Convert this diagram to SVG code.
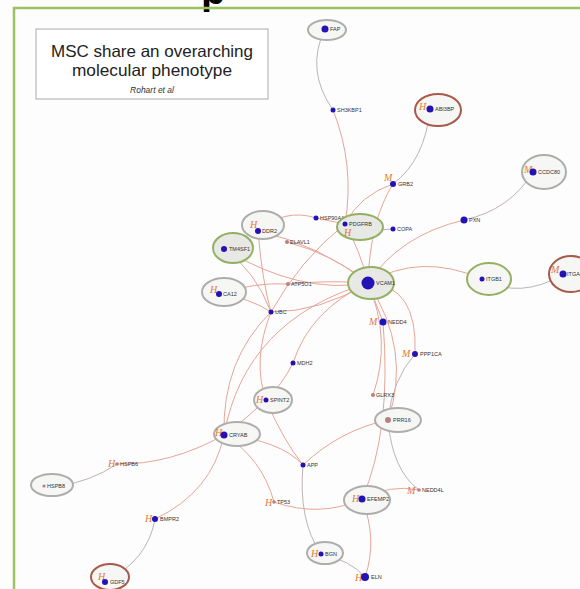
<svg xmlns="http://www.w3.org/2000/svg" width="580" height="589" viewBox="0 0 580 589">
<style>
.e{fill:none;stroke:#e6a595;stroke-width:1}
.g{fill:none;stroke:#bdb3b3;stroke-width:1}
.ring{stroke-width:2;fill:#f6f6f4}
.rg{stroke:#adadab}
.rn{stroke:#93b064}
.rb{stroke:#a85a48}
.fill2{fill:#e8e8e4}
.d{fill:#2412b4}
.ds{fill:#b88080}
.lb{font-family:"Liberation Sans",Arial,sans-serif;font-size:5.5px;fill:#333}
.mk{font-family:"Liberation Serif","Times New Roman",serif;font-style:italic;font-size:10px;fill:#e27a3a}
</style>
<rect width="580" height="589" fill="#fefdfe"/>
<text x="201" y="4" font-family="Liberation Sans,Arial,sans-serif" font-weight="bold" font-size="40" fill="#000">p</text>
<path d="M14,589 V8 H580" fill="none" stroke="#9cc45c" stroke-width="2.5"/>
<g id="title">
<rect x="36" y="29" width="232" height="70" fill="#fff" stroke="#aaa" stroke-width="1"/>
<text x="152" y="57" text-anchor="middle" font-family="Liberation Sans,Arial,sans-serif" font-size="16.5" fill="#222" textLength="202" lengthAdjust="spacingAndGlyphs">MSC share an overarching</text>
<text x="152" y="76" text-anchor="middle" font-family="Liberation Sans,Arial,sans-serif" font-size="16.5" fill="#222" textLength="160" lengthAdjust="spacingAndGlyphs">molecular phenotype</text>
<text x="152" y="93" text-anchor="middle" font-family="Liberation Sans,Arial,sans-serif" font-style="italic" font-size="8.5" fill="#333">Rohart et al</text>
</g>
<g id="connectors">
<path class="g" d="M325,29 Q305,70 333,110"/>
<path class="g" d="M430,109 Q425,160 393,184"/>
<path class="g" d="M533,172 Q510,210 464,220"/>
<path class="g" d="M482,279 Q520,300 564,274"/>
<path class="g" d="M388,420 Q392,470 419,490"/>
<path class="g" d="M303,465 Q298,520 321,554"/>
<path class="g" d="M321,554 Q350,560 365,577"/>
<path class="g" d="M155,519 Q148,560 105,582"/>
<path class="g" d="M117,464 Q90,482 58,486"/>
<path class="g" d="M345,224 Q370,232 393,229"/>
<path class="g" d="M415,354 Q392,380 388,420"/>
<path class="e" d="M219,294 Q250,298 271,312"/>
<path class="e" d="M333,110 Q355,165 345,224"/>
<path class="e" d="M393,184 Q360,195 345,224"/>
<path class="e" d="M393,184 Q370,220 368,283"/>
<path class="e" d="M316,218 Q285,208 258,231"/>
<path class="e" d="M316,218 L345,224"/>
<path class="e" d="M345,224 Q360,250 368,283"/>
<path class="e" d="M345,224 Q300,260 271,312"/>
<path class="e" d="M258,231 Q320,245 368,283"/>
<path class="e" d="M287,242 Q335,255 368,283"/>
<path class="e" d="M224,249 Q300,295 368,283"/>
<path class="e" d="M224,249 Q255,270 271,312"/>
<path class="e" d="M258,231 Q262,280 271,312"/>
<path class="e" d="M288,284 Q330,280 368,283"/>
<path class="e" d="M219,294 Q255,282 288,284"/>
<path class="e" d="M271,312 Q320,312 368,283"/>
<path class="e" d="M464,220 Q400,235 368,283"/>
<path class="e" d="M368,283 Q420,252 482,279"/>
<path class="e" d="M368,283 L383,322"/>
<path class="e" d="M368,283 Q418,285 415,354"/>
<path class="e" d="M368,283 Q310,310 293,363"/>
<path class="e" d="M293,363 Q282,385 266,400"/>
<path class="e" d="M271,312 Q252,360 266,400"/>
<path class="e" d="M271,312 Q222,360 224,435"/>
<path class="e" d="M368,283 Q245,320 224,435"/>
<path class="e" d="M266,400 Q245,420 224,435"/>
<path class="e" d="M266,400 Q283,440 303,465"/>
<path class="e" d="M224,435 Q280,440 303,465"/>
<path class="e" d="M224,435 Q170,465 117,464"/>
<path class="e" d="M224,435 Q212,492 155,519"/>
<path class="e" d="M224,435 Q262,458 274,502"/>
<path class="e" d="M274,502 Q320,518 362,499"/>
<path class="e" d="M362,499 Q390,484 419,490"/>
<path class="e" d="M362,499 Q378,540 365,577"/>
<path class="e" d="M383,322 Q392,430 362,499"/>
<path class="e" d="M368,283 Q392,340 373,395"/>
<path class="e" d="M368,283 Q412,350 388,420"/>
<path class="e" d="M388,420 Q340,430 303,465"/>
</g>
<g id="node-FAP"><ellipse class="ring rg" cx="327" cy="30" rx="19" ry="10"/><circle class="d" cx="325" cy="29" r="3.5"/><text class="lb" x="330" y="31">FAP</text></g>
<g id="node-SH3KBP1"><circle class="d" cx="333" cy="110" r="2.5"/><text class="lb" x="337" y="112">SH3KBP1</text></g>
<g id="node-ABI3BP"><ellipse class="ring rb" cx="438" cy="110" rx="23" ry="16"/><text class="mk" x="419" y="110">H</text><circle class="d" cx="430" cy="109" r="3.5"/><text class="lb" x="435" y="111">ABI3BP</text></g>
<g id="node-CCDC80"><ellipse class="ring rg" cx="544" cy="172" rx="22" ry="17"/><text class="mk" x="524" y="173">M</text><circle class="d" cx="533" cy="172" r="3.5"/><text class="lb" x="538" y="174">CCDC80</text></g>
<g id="node-PXN"><circle class="d" cx="464" cy="220" r="3.5"/><text class="lb" x="469" y="222">PXN</text></g>
<g id="node-ITGB1"><ellipse class="ring rn" cx="489" cy="279" rx="22" ry="16"/><circle class="d" cx="482" cy="279" r="2.5"/><text class="lb" x="486" y="281">ITGB1</text></g>
<g id="node-ITGA"><ellipse class="ring rb" cx="571" cy="274" rx="22" ry="18"/><text class="mk" x="551" y="273">M</text><circle class="d" cx="563" cy="274" r="3.5"/><text class="lb" x="567" y="276">ITGA</text></g>
<g id="node-GRB2"><text class="mk" x="384" y="181">M</text><circle class="d" cx="393" cy="184" r="3"/><text class="lb" x="398" y="186">GRB2</text></g>
<g id="node-HSP90AA1"><circle class="d" cx="316" cy="218" r="2.5"/><text class="lb" x="320" y="220">HSP90AA1</text></g>
<g id="node-PDGFRB"><ellipse class="ring rn fill2" cx="360" cy="227" rx="23" ry="13"/><text class="mk" x="344" y="236">H</text><circle class="d" cx="345" cy="224" r="2.5"/><text class="lb" x="349" y="226">PDGFRB</text></g>
<g id="node-COPA"><circle class="d" cx="393" cy="229" r="2.5"/><text class="lb" x="397" y="231">COPA</text></g>
<g id="node-DDR2"><ellipse class="ring rg" cx="263" cy="225" rx="21" ry="14"/><text class="mk" x="250" y="228">H</text><circle class="d" cx="258" cy="231" r="3"/><text class="lb" x="262" y="233">DDR2</text></g>
<g id="node-ELAVL1"><circle class="ds" cx="287" cy="242" r="2"/><text class="lb" x="290" y="244">ELAVL1</text></g>
<g id="node-TM4SF1"><ellipse class="ring rn fill2" cx="233" cy="248" rx="20" ry="15"/><circle class="d" cx="224" cy="249" r="3"/><text class="lb" x="229" y="251">TM4SF1</text></g>
<g id="node-ATP5O1"><circle class="ds" cx="288" cy="284" r="2"/><text class="lb" x="291" y="286">ATP5O1</text></g>
<g id="node-CA12"><ellipse class="ring rg" cx="224" cy="292" rx="22" ry="14"/><text class="mk" x="210" y="293">H</text><circle class="d" cx="219" cy="294" r="3"/><text class="lb" x="223" y="296">CA12</text></g>
<g id="node-VCAM1"><ellipse class="ring rn fill2" cx="371" cy="283" rx="23" ry="16"/><circle class="d" cx="368" cy="283" r="6.5"/><text class="lb" x="376" y="285">VCAM1</text></g>
<g id="node-UBC"><circle class="d" cx="271" cy="312" r="2.5"/><text class="lb" x="275" y="314">UBC</text></g>
<g id="node-NEDD4"><text class="mk" x="369" y="325">M</text><circle class="d" cx="383" cy="322" r="3.5"/><text class="lb" x="388" y="324">NEDD4</text></g>
<g id="node-PPP1CA"><text class="mk" x="402" y="357">M</text><circle class="d" cx="415" cy="354" r="3"/><text class="lb" x="420" y="356">PPP1CA</text></g>
<g id="node-MDH2"><circle class="d" cx="293" cy="363" r="2.5"/><text class="lb" x="297" y="365">MDH2</text></g>
<g id="node-GLRX3"><circle class="ds" cx="373" cy="395" r="2"/><text class="lb" x="376" y="397">GLRX3</text></g>
<g id="node-SPINT2"><ellipse class="ring rg" cx="273" cy="400" rx="19" ry="13"/><text class="mk" x="256" y="403">H</text><circle class="d" cx="266" cy="400" r="2.5"/><text class="lb" x="270" y="402">SPINT2</text></g>
<g id="node-PRR16"><ellipse class="ring rg" cx="398" cy="420" rx="23" ry="12"/><circle class="ds" cx="388" cy="420" r="3"/><text class="lb" x="393" y="422">PRR16</text></g>
<g id="node-CRYAB"><ellipse class="ring rg" cx="237" cy="434" rx="23" ry="12"/><text class="mk" x="215" y="436">H</text><circle class="d" cx="224" cy="435" r="3.5"/><text class="lb" x="229" y="437">CRYAB</text></g>
<g id="node-HSPB6"><text class="mk" x="108" y="467">H</text><circle class="ds" cx="117" cy="464" r="1.8"/><text class="lb" x="120" y="466">HSPB6</text></g>
<g id="node-HSPB8"><ellipse class="ring rg" cx="52" cy="485" rx="21" ry="11"/><circle class="ds" cx="44" cy="486" r="1.6"/><text class="lb" x="47" y="488">HSPB8</text></g>
<g id="node-TP53"><text class="mk" x="265" y="506">H</text><circle class="ds" cx="274" cy="502" r="1.8"/><text class="lb" x="277" y="504">TP53</text></g>
<g id="node-BMPR2"><text class="mk" x="145" y="522">H</text><circle class="d" cx="155" cy="519" r="3"/><text class="lb" x="160" y="521">BMPR2</text></g>
<g id="node-GDF5"><ellipse class="ring rb" cx="110" cy="577" rx="19" ry="13"/><text class="mk" x="98" y="580">H</text><circle class="d" cx="105" cy="582" r="3"/><text class="lb" x="110" y="584">GDF5</text></g>
<g id="node-APP"><circle class="d" cx="303" cy="465" r="2.5"/><text class="lb" x="307" y="467">APP</text></g>
<g id="node-EFEMP2"><ellipse class="ring rg" cx="367" cy="500" rx="23" ry="14"/><text class="mk" x="352" y="502">H</text><circle class="d" cx="362" cy="499" r="3.5"/><text class="lb" x="367" y="501">EFEMP2</text></g>
<g id="node-NEDD4L"><text class="mk" x="407" y="494">M</text><circle class="ds" cx="419" cy="490" r="1.8"/><text class="lb" x="422" y="492">NEDD4L</text></g>
<g id="node-BGN"><ellipse class="ring rg" cx="325" cy="553" rx="18" ry="11"/><text class="mk" x="311" y="557">H</text><circle class="d" cx="321" cy="554" r="2.5"/><text class="lb" x="325" y="556">BGN</text></g>
<g id="node-ELN"><text class="mk" x="355" y="581">H</text><circle class="d" cx="365" cy="577" r="4"/><text class="lb" x="371" y="579">ELN</text></g>
</svg>
